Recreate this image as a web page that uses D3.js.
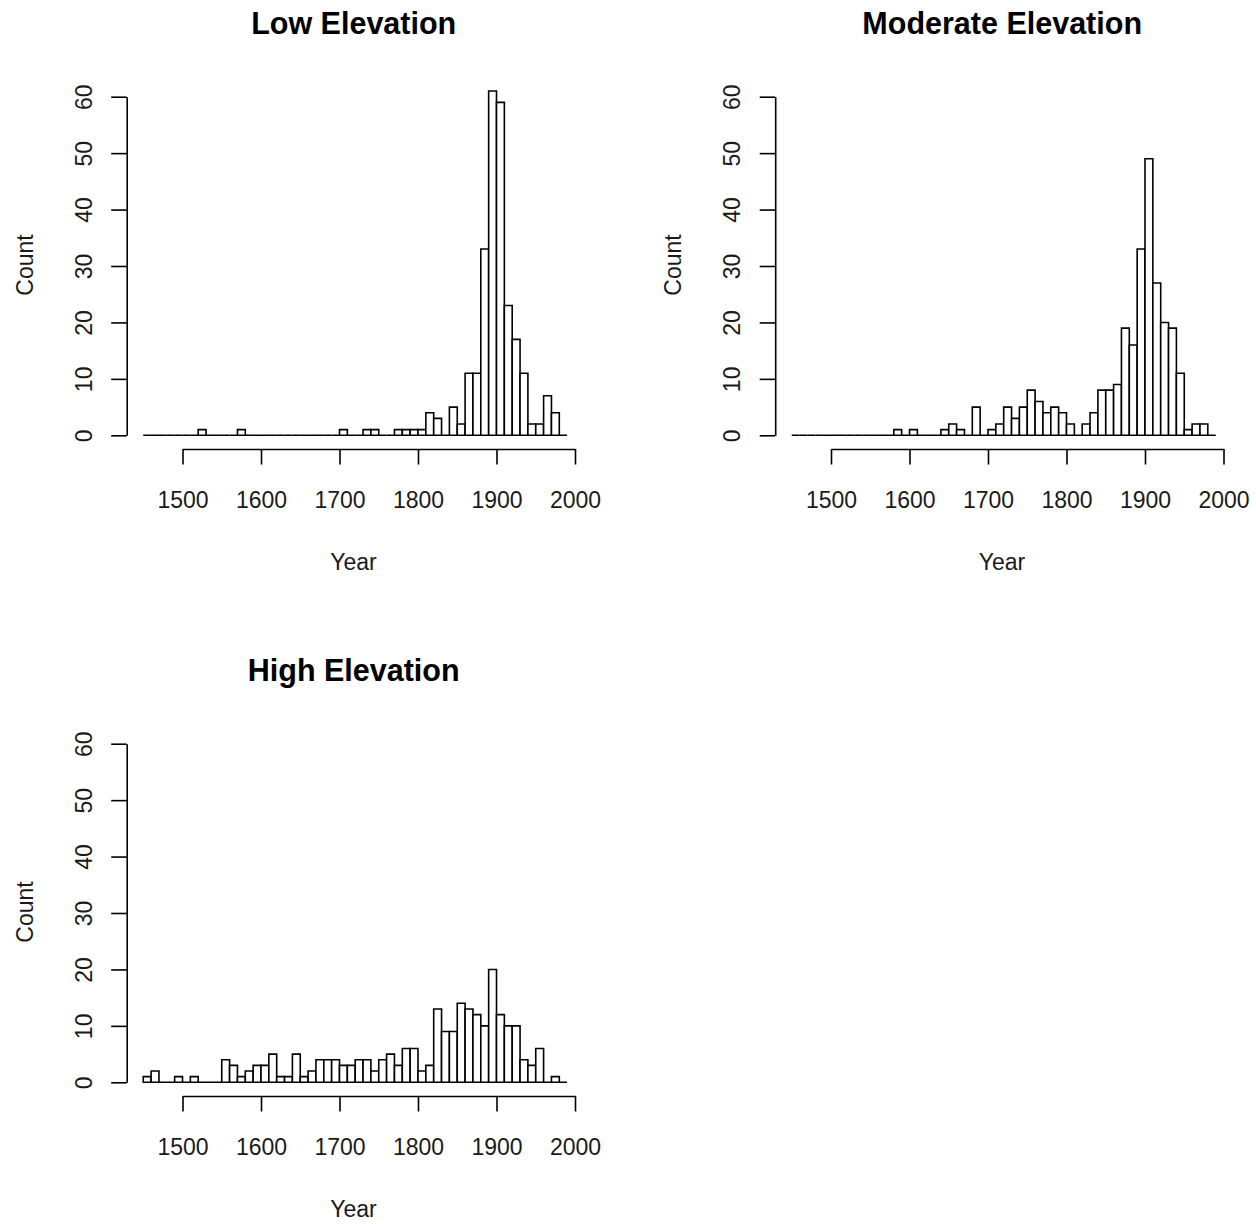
<!DOCTYPE html>
<html>
<head>
<meta charset="utf-8">
<script src="https://cdn.jsdelivr.net/npm/d3@7"></script>
<style>
  html, body { margin: 0; padding: 0; background: #fff; }
  svg { display: block; }
</style>
</head>
<body>
<svg id="chart" width="1256" height="1224"></svg>
<script>
// ---- data ----
const binStarts = [1450,1460,1470,1480,1490,1500,1510,1520,1530,1540,1550,1560,1570,1580,1590,1600,1610,1620,1630,1640,1650,1660,1670,1680,1690,1700,1710,1720,1730,1740,1750,1760,1770,1780,1790,1800,1810,1820,1830,1840,1850,1860,1870,1880,1890,1900,1910,1920,1930,1940,1950,1960,1970,1980];
const binWidth = 10;
const lowCounts = [0,0,0,0,0,0,0,1,0,0,0,0,1,0,0,0,0,0,0,0,0,0,0,0,0,1,0,0,1,1,0,0,1,1,1,1,4,3,0,5,2,11,11,33,61,59,23,17,11,2,2,7,4,0];
const moderateCounts = [0,0,0,0,0,0,0,0,0,0,0,0,0,1,0,1,0,0,0,1,2,1,0,5,0,1,2,5,3,5,8,6,4,5,4,2,0,2,4,8,8,9,19,16,33,49,27,20,19,11,1,2,2,0];
const highCounts = [1,2,0,0,1,0,1,0,0,0,4,3,1,2,3,3,5,1,1,5,1,2,4,4,4,3,3,4,4,2,4,5,3,6,6,2,3,13,9,9,14,13,12,10,20,12,10,10,4,3,6,0,1,0];
const panelTitles = ["Low Elevation", "Moderate Elevation", "High Elevation"];
const xTicks = [1500,1600,1700,1800,1900,2000];
const yTicks = [0,10,20,30,40,50,60];
const xLabel = "Year";
const yLabel = "Count";

// ---- layout ----
const panels = [
  { title: panelTitles[0], counts: lowCounts, dx: 0, dy: 0 },
  { title: panelTitles[1], counts: moderateCounts, dx: 648.5, dy: 0 },
  { title: panelTitles[2], counts: highCounts, dx: 0, dy: 647 }
];
const FONT = "'Liberation Sans', Arial, sans-serif";
const TXT = "#1a1a1a";
const svg = d3.select("#chart");

panels.forEach(p => {
  const g = svg.append("g").attr("transform", `translate(${p.dx},${p.dy})`);
  const x = d3.scaleLinear().domain([1500, 2000]).range([182.5, 575]);
  const y = d3.scaleLinear().domain([0, 60]).range([435.3, 96.7]);

  // bars (zero-count bins drawn as flat outlines, as in R's hist)
  g.selectAll("path.bar")
    .data(binStarts.map((s, i) => ({ s, v: p.counts[i] })))
    .join("path")
    .attr("class", "bar")
    .attr("d", d => {
      const x0 = x(d.s), x1 = x(d.s + binWidth), y0 = y(0), y1 = y(d.v);
      return `M${x0},${y0}V${y1}H${x1}V${y0}Z`;
    })
    .attr("fill", "#fff")
    .attr("stroke", "#000")
    .attr("stroke-width", 1.6);

  // x axis
  const xAxisG = g.append("g")
    .attr("transform", `translate(0,449)`)
    .call(d3.axisBottom(x).tickValues(xTicks).tickSize(15.5).tickSizeOuter(0).tickFormat(d3.format("d")));
  xAxisG.selectAll("path.domain, line").attr("stroke", "#000").attr("stroke-width", 1.6);
  xAxisG.selectAll("text")
    .attr("y", 59.3).attr("dy", 0)
    .attr("fill", TXT)
    .style("font-family", FONT).style("font-size", "23px");

  // y axis
  const yAxisG = g.append("g")
    .attr("transform", `translate(126.7,0)`)
    .call(d3.axisLeft(y).tickValues(yTicks).tickSize(15.5).tickSizeOuter(0));
  yAxisG.selectAll("path.domain, line").attr("stroke", "#000").attr("stroke-width", 1.6);
  yAxisG.selectAll("text")
    .attr("x", 0).attr("dy", 0)
    .attr("text-anchor", "middle")
    .attr("transform", "translate(-35,0) rotate(-90)")
    .attr("fill", TXT)
    .style("font-family", FONT).style("font-size", "23px");

  // axis titles
  g.append("text")
    .attr("x", 353.5).attr("y", 570)
    .attr("text-anchor", "middle")
    .attr("fill", TXT)
    .style("font-family", FONT).style("font-size", "23px")
    .text(xLabel);
  g.append("text")
    .attr("transform", `translate(32.5,265) rotate(-90)`)
    .attr("text-anchor", "middle")
    .attr("fill", TXT)
    .style("font-family", FONT).style("font-size", "23px")
    .text(yLabel);

  // panel title
  g.append("text")
    .attr("x", 353.7).attr("y", 34.3)
    .attr("text-anchor", "middle")
    .style("font-family", FONT).style("font-size", "30.5px").style("font-weight", "bold")
    .text(p.title);
});
</script>
</body>
</html>
